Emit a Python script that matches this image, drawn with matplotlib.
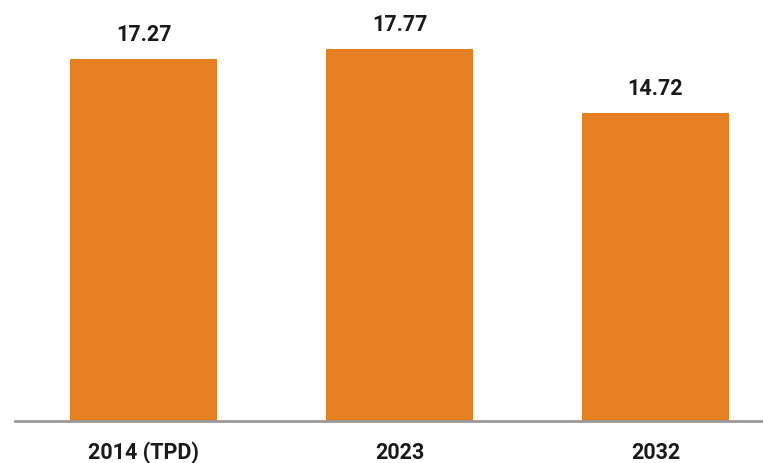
import matplotlib.pyplot as plt

categories = ['2014 (TPD)', '2023', '2032']
values = [17.27, 17.77, 14.72]
labels = ['17.27', '17.77', '14.72']

bar_color = '#E67E22'
axis_color = '#999999'

fig = plt.figure(figsize=(7.63, 4.63), dpi=100)
ax = fig.add_axes([15 / 763, 42 / 463, 748 / 763, 421 / 463])

x = range(len(categories))
bars = ax.bar(x, values, width=0.574, color=bar_color)

# value labels above each bar
for b, lab in zip(bars, labels):
    ax.annotate(lab, (b.get_x() + b.get_width() / 2, b.get_height()),
                xytext=(0, 13), textcoords='offset points', ha='center', va='baseline',
                fontsize=15.5, fontweight='bold', family='Roboto', color='#1a1a1a')

ax.set_xlim(-0.502, 2.42)
ax.set_ylim(0, 20.11)
ax.set_xticks(list(x))
ax.set_xticklabels(categories, fontsize=15.5, fontweight='bold', family='Roboto', color='#1a1a1a')
ax.tick_params(axis='x', length=0, pad=15)
ax.set_yticks([])

for s in ['top', 'right', 'left']:
    ax.spines[s].set_visible(False)
ax.spines['bottom'].set_color(axis_color)
ax.spines['bottom'].set_linewidth(2)

fig.savefig('out.png', dpi=100)
